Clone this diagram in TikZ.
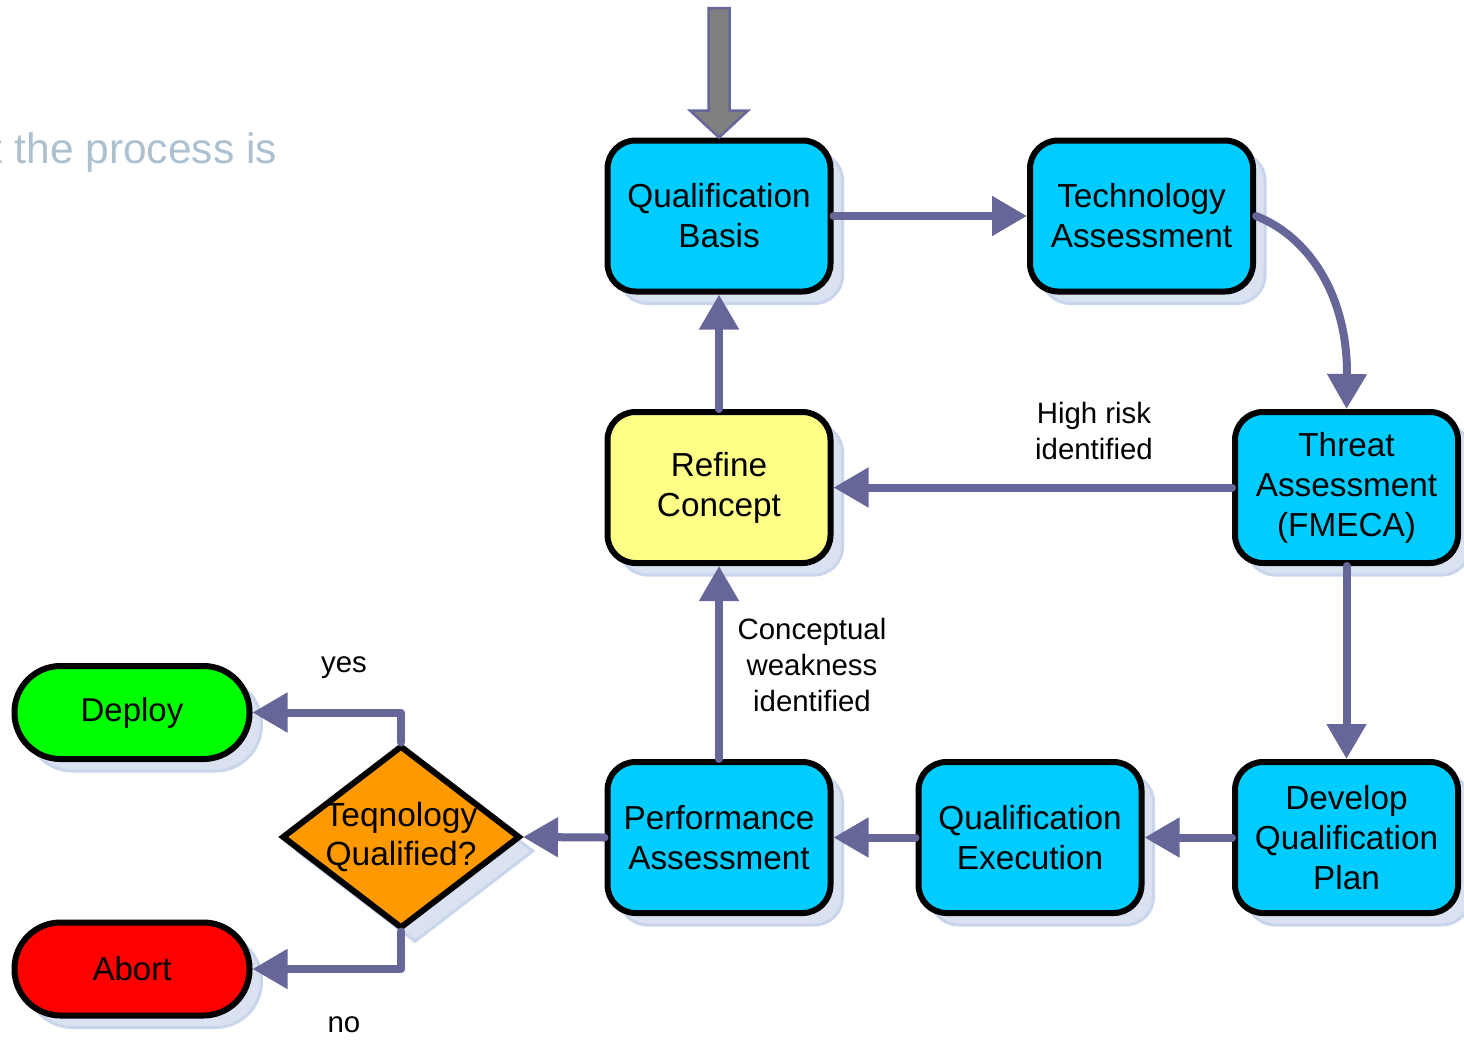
\documentclass[tikz,border=0pt]{standalone}
\usepackage{fontspec}
\setmainfont{Liberation Sans}
\usetikzlibrary{arrows.meta,shapes.geometric,shadows,calc}
\definecolor{cyanbox}{HTML}{00CCFF}
\definecolor{yellowbox}{HTML}{FFFF88}
\definecolor{greenbox}{HTML}{00FF00}
\definecolor{redbox}{HTML}{FF0000}
\definecolor{orangebox}{HTML}{FF9900}
\definecolor{arrowc}{HTML}{666699}
\definecolor{shadowc}{HTML}{DAE2F2}
\definecolor{shadowedge}{HTML}{C8D5EA}
\definecolor{greyarrow}{HTML}{808080}
\definecolor{titlec}{HTML}{ADC0CF}
\begin{document}
\begin{tikzpicture}[x=1pt,y=-1pt,
  shad/.style={drop shadow={shadow xshift=12pt, shadow yshift=-12pt, fill=shadowc, draw=shadowedge, line width=3pt, opacity=1}},
  box/.style={shad, draw=black, line width=6pt, fill=cyanbox, rounded corners=28pt,
    minimum width=223pt, minimum height=151pt, align=center, inner sep=0pt,
    font=\fontsize{33.3}{40}\selectfont},
  term/.style={shad, draw=black, line width=6pt, rounded corners=46pt,
    minimum width=235pt, minimum height=93pt, inner sep=0pt,
    font=\fontsize{33}{40}\selectfont},
  decision/.style={drop shadow={shadow xshift=14pt, shadow yshift=-14pt, fill=shadowc, draw=shadowedge, line width=3pt, opacity=1},
    diamond, draw=black, line width=6pt, fill=orangebox, minimum width=238pt, minimum height=183pt, inner sep=0pt},
  conn/.style={draw=arrowc, line width=8pt, line cap=round, line join=round,
    -{Triangle[width=38pt,length=35pt]}},
  lbl/.style={align=center, font=\fontsize{29.4}{36}\selectfont, inner sep=0pt}
]
\useasboundingbox (0,0) rectangle (1464,1039);

\node[anchor=base east, text=titlec, font=\fontsize{42.5}{50}\selectfont, inner sep=0pt] (title) at (277,163) {t the process is};

\node[box] (QB) at (719,216) {Qualification\\Basis};
\node[box] (TA) at (1141.5,216) {Technology\\Assessment};
\node[box] (TH) at (1346.5,487.5) {Threat\\Assessment\\(FMECA)};
\node[box, fill=yellowbox] (RC) at (719,487.5) {Refine\\Concept};
\node[box] (PA) at (719,837.5) {Performance\\Assessment};
\node[box] (QE) at (1030,837.5) {Qualification\\Execution};
\node[box] (DP) at (1346.5,837.5) {Develop\\Qualification\\Plan};
\node[term, fill=greenbox] (DE) at (132,712.5) {Deploy};
\node[term, fill=redbox] (AB) at (132,969) {Abort};
\node[decision] (DQ) at (401,837) {};
\node[align=center, font=\fontsize{33.5}{39}\selectfont, inner sep=0pt] (DQT) at (DQ.center) {Teqnology\\Qualified?};

% incoming grey block arrow
\coordinate (topin) at (719,8);
\filldraw[fill=greyarrow, draw=arrowc, line width=2.5pt, line join=miter]
  ($(topin)+(-10.5,0)$) -- ($(topin)+(10.5,0)$) -- ($(QB.north)+(10.5,-27)$) --
  ($(QB.north)+(29,-27)$) -- (QB.north) -- ($(QB.north)+(-29,-27)$) --
  ($(QB.north)+(-10.5,-27)$) -- cycle;

% connectors
\draw[conn] (QB.east) -- (TA.west);
\draw[conn] (TA.east) .. controls (1312,238) and (1348,300) .. (TH.north);
\draw[conn] (TH.west) -- (RC.east);
\draw[conn] (RC.north) -- (QB.south);
\draw[conn] (TH.south) -- (DP.north);
\draw[conn] (DP.west) -- (QE.east);
\draw[conn] (QE.west) -- (PA.east);
\draw[conn] (PA.north) -- (RC.south);
\draw[conn] (PA.west) -- (DQ.east);
\draw[conn] (DQ.north) |- (DE.east);
\draw[conn] (DQ.south) |- (AB.east);

% labels
\node[lbl] (L1) at (1094,431) {High risk\\identified};
\node[lbl] (L2) at (812,665) {Conceptual\\weakness\\identified};
\node[lbl] (L3) at (344,668) {yes};
\node[lbl] (L4) at (344,1025) {no};
\end{tikzpicture}
\end{document}
